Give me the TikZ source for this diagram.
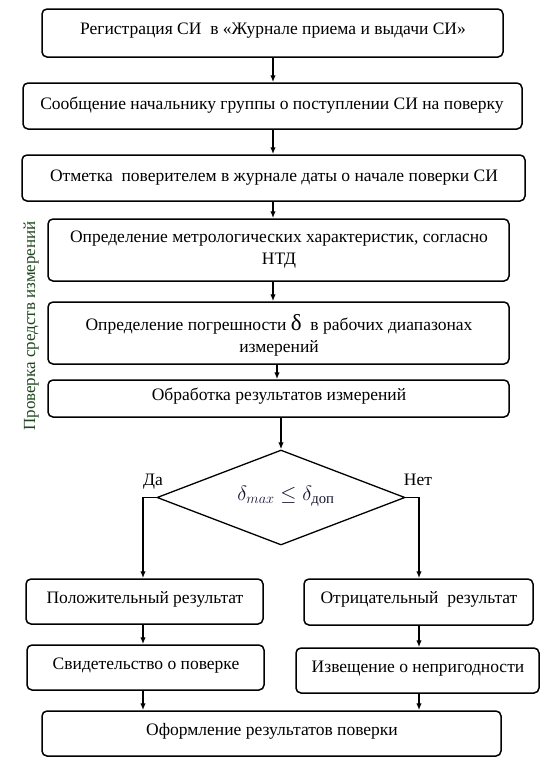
\documentclass[tikz,border=0pt]{standalone}
\usepackage{amsmath}
\usepackage{fontspec}
\setmainfont{Liberation Serif}
\usetikzlibrary{arrows.meta,fit,shapes.geometric}
\definecolor{lblgreen}{RGB}{30,70,30}
\definecolor{formcol}{RGB}{20,20,50}
\begin{document}
\begin{tikzpicture}[x=1pt,y=-1pt,
  box/.style={draw,line width=1.5pt,rounded corners=5pt,inner sep=0pt},
  txt/.style={font=\fontsize{17.5}{21.5}\selectfont,inner sep=0pt,anchor=base,align=center},
  arr/.style={line width=1.4pt,-{Latex[length=7pt,width=5.5pt]}},
  dia/.style={draw,diamond,line width=1.3pt,inner sep=0pt,minimum width=248pt,minimum height=95pt}]
\useasboundingbox (0,0) rectangle (545,761);
% boxes
\node[box,fit={(42,9)(503,57)}] (b1) {};
\node[box,fit={(23,83)(522,129)}] (b2) {};
\node[box,fit={(22,155)(525,201)}] (b3) {};
\node[box,fit={(48,219)(509,281)}] (b4) {};
\node[box,fit={(48,302)(509,364)}] (b5) {};
\node[box,fit={(48,380)(509,417)}] (b6) {};
\node[dia] (d) at (281,497.5) {};
\node[box,fit={(26,579)(263,624)}] (b7) {};
\node[box,fit={(304,579)(533,625)}] (b8) {};
\node[box,fit={(27,645)(264,690)}] (b9) {};
\node[box,fit={(296,648)(539,693)}] (b10) {};
\node[box,fit={(42,711)(501,756)}] (b11) {};
% texts
\node[txt] (t1) at (273,34) {Регистрация СИ~ в «Журнале приема и выдачи СИ»};
\node[txt] (t2) at (272,109) {Сообщение начальнику группы о поступлении СИ на поверку};
\node[txt] (t3) at (274,181) {Отметка~ поверителем в журнале даты о начале поверки СИ};
\node[txt] (t4) at (279,264) {Определение метрологических характеристик, согласно\\НТД};
\node[txt] (t5) at (279,352) {Определение погрешности {\fontsize{23}{21.5}\selectfont δ}~ в рабочих диапазонах\\измерений};
\node[txt] (t6) at (279,400) {Обработка результатов измерений};
\node[txt] (t7) at (145,603) {Положительный результат};
\node[txt] (t8) at (419,603) {Отрицательный~ результат};
\node[txt] (t9) at (146,669) {Свидетельство о поверке};
\node[txt] (t10) at (418,672) {Извещение о непригодности};
\node[txt] (t11) at (272,735) {Оформление результатов поверки};
\node[txt] (yes) at (153,485) {Да};
\node[txt] (no) at (418,485) {Нет};
\node[font=\fontsize{21}{24}\selectfont,text=formcol,inner sep=0pt] (f) at (286,496) {$\delta_{max}\le\delta_{\text{доп}}$};
\node[font=\fontsize{17}{20}\selectfont,text=lblgreen,rotate=90,inner sep=0pt] (lbl) at (31,326) {Проверка средств измерений};
% arrow columns
\coordinate (xa) at (273,0);
\coordinate (xb) at (277,0);
\coordinate (xl) at (143,0);
\coordinate (xr) at (419,0);
% connectors
\draw[arr] (b1.south -| xa) -- (b2.north -| xa);
\draw[arr] (b2.south -| xa) -- (b3.north -| xa);
\draw[arr] (b3.south -| xa) -- (b4.north -| xa);
\draw[arr] (b4.south -| xa) -- (b5.north -| xa);
\draw[arr] (b5.south -| xb) -- (b6.north -| xb);
\draw[arr] (b6.south -| d.north) -- (d.north);
\draw[arr] (d.west) -- (d.west -| xl) -- (b7.north -| xl);
\draw[arr] (d.east) -- (d.east -| xr) -- (b8.north -| xr);
\draw[arr] (b7.south -| xl) -- (b9.north -| xl);
\draw[arr] (b8.south -| xr) -- (b10.north -| xr);
\draw[arr] (b9.south -| xl) -- (b11.north -| xl);
\draw[arr] (b10.south -| xr) -- (b11.north -| xr);
\end{tikzpicture}
\end{document}
